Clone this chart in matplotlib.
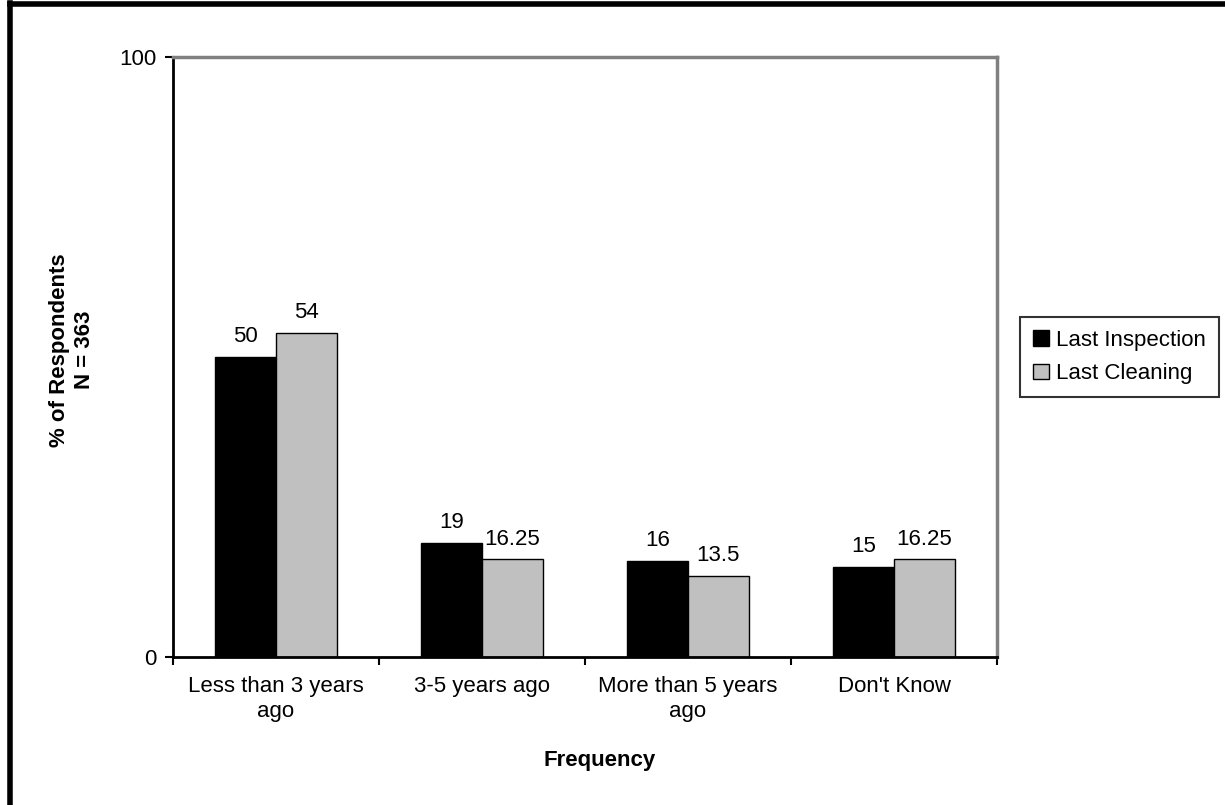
import numpy as np
import matplotlib.pyplot as plt
from matplotlib.lines import Line2D

plt.rcParams['font.family'] = ['Liberation Sans', 'DejaVu Sans']

categories = ['Less than 3 years\nago', '3-5 years ago', 'More than 5 years\nago', "Don't Know"]
inspection = [50, 19, 16, 15]
cleaning = [54, 16.25, 13.5, 16.25]
inspection_labels = ['50', '19', '16', '15']
cleaning_labels = ['54', '16.25', '13.5', '16.25']

fs = 16
fig = plt.figure(figsize=(12.25, 8.05), dpi=100)
ax = fig.add_axes([0.1412, 0.1839, 0.6727, 0.7453])

x = np.arange(len(categories))
w = 0.295
b1 = ax.bar(x - w / 2, inspection, w, color='black', edgecolor='black', lw=1, label='Last Inspection')
b2 = ax.bar(x + w / 2, cleaning, w, color='#c0c0c0', edgecolor='black', lw=1, label='Last Cleaning')

for rect, lab in zip(b1, inspection_labels):
    ax.annotate(lab, (rect.get_x() + rect.get_width() / 2, rect.get_height()),
                xytext=(0, 7), textcoords='offset points', ha='center', va='bottom', fontsize=fs)
for rect, lab in zip(b2, cleaning_labels):
    ax.annotate(lab, (rect.get_x() + rect.get_width() / 2, rect.get_height()),
                xytext=(0, 7), textcoords='offset points', ha='center', va='bottom', fontsize=fs)

ax.set_xlim(-0.5, len(categories) - 0.5)
ax.set_ylim(0, 100)
ax.set_yticks([0, 100])
ax.set_yticklabels(['0', '100'], fontsize=fs)
ax.set_xticks(x)
ax.set_xticklabels(categories, fontsize=fs)
ax.set_xticks(np.arange(len(categories) + 1) - 0.5, minor=True)
ax.tick_params(axis='x', which='major', length=0, pad=14)
ax.tick_params(axis='x', which='minor', length=6, width=1.5, direction='out')
ax.tick_params(axis='y', length=6, width=1.5, direction='out', pad=6)

for s in ['top', 'right']:
    ax.spines[s].set_color('#808080')
    ax.spines[s].set_linewidth(2.5)
for s in ['left', 'bottom']:
    ax.spines[s].set_color('black')
    ax.spines[s].set_linewidth(2)

fig.text(600 / 1225, 1 - 760 / 805, 'Frequency', fontsize=fs, fontweight='bold', ha='center', va='center')
fig.text(72 / 1225, 1 - 350 / 805, '% of Respondents\nN = 363', fontsize=fs, fontweight='bold',
         rotation=90, ha='center', va='center', multialignment='center')

leg = ax.legend(loc='center left', bbox_to_anchor=(1.028, 0.50), fontsize=fs,
                frameon=True, fancybox=False, edgecolor='black',
                handlelength=0.7, handleheight=0.7, handletextpad=0.3, borderpad=0.6, labelspacing=0.55,
                borderaxespad=0)
leg.get_frame().set_linewidth(1.5)

# outer border of the chart area
fig.add_artist(Line2D([0.0082, 0.0082], [0, 0.9963], color='black', lw=4, transform=fig.transFigure))
fig.add_artist(Line2D([0.0082, 1.0], [0.9950, 0.9950], color='black', lw=4, transform=fig.transFigure))

fig.savefig('out.png', dpi=100)
